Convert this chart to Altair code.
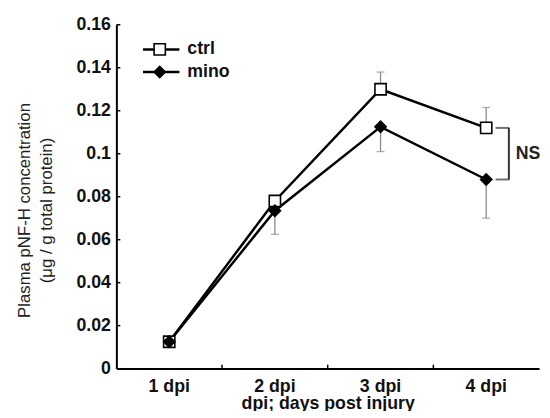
import altair as alt
import pandas as pd

days = ["1 dpi", "2 dpi", "3 dpi", "4 dpi"]
ctrl = [0.0125, 0.078, 0.130, 0.112]
ctrl_err = [0.001, 0.002, 0.008, 0.0095]
mino = [0.0125, 0.0735, 0.1125, 0.088]
mino_err = [0.001, 0.011, 0.0115, 0.018]
y_ticks = [0.02, 0.04, 0.06, 0.08, 0.10, 0.12, 0.14, 0.16]
series = ["ctrl", "mino"]

rows = []
for d, v, e in zip(days, ctrl, ctrl_err):
    rows.append(dict(day=d, series="ctrl", value=v, lo=v, hi=v + e, cap=v + e))
for d, v, e in zip(days, mino, mino_err):
    rows.append(dict(day=d, series="mino", value=v, lo=v - e, hi=v, cap=v - e))
df = pd.DataFrame(rows)

W, H = 429, 349
FONT = "Liberation Sans"

xscale = alt.Scale(domain=days, paddingInner=0, paddingOuter=0)
yscale = alt.Scale(domain=[0, 0.16], nice=False, zero=True)

X = alt.X("day:N", scale=xscale, sort=days,
          axis=alt.Axis(title="dpi; days post injury", labelAngle=0, ticks=False,
                        labelPadding=9, titlePadding=-1, domainWidth=2,
                        domainColor="black"))
Y = alt.Y("value:Q", scale=yscale,
          axis=alt.Axis(title=["Plasma pNF-H concentration", "(\u03bcg / g total protein)"],
                        values=[0] + y_ticks, format="~g", ticks=False, grid=False,
                        labelPadding=6, titlePadding=21, titleFontSize=17,
                        titleFontWeight="normal", titleColor="#222", titleY=188,
                        titleLineHeight=22, domainWidth=2, domainColor="black"))

base = alt.Chart(df)

err = base.mark_rule(color="#8a8a8a", strokeWidth=1.3).encode(
    x=X, y=alt.Y("lo:Q", scale=yscale), y2="hi:Q")
caps = base.mark_tick(color="#8a8a8a", size=8, thickness=1.3).encode(
    x=X, y=alt.Y("cap:Q", scale=yscale))
lines = base.mark_line(color="black", strokeWidth=2.5).encode(
    x=X, y=Y, detail="series:N")
points = base.mark_point(filled=True, stroke="black", strokeWidth=1.6, size=130, opacity=1).encode(
    x=X, y=Y,
    shape=alt.condition("datum.series == 'ctrl'", alt.value("square"), alt.value("diamond")),
    fill=alt.condition("datum.series == 'ctrl'", alt.value("white"), alt.value("black")),
)

# manual legend (decoration positioned in pixels)
leg_ctrl = alt.Chart(pd.DataFrame({"s": [series[0]]}))
leg_mino = alt.Chart(pd.DataFrame({"s": [series[1]]}))
LY1, LY2 = 25, 48
leg = [
    leg_ctrl.mark_rule(color="black", strokeWidth=2.5).encode(
        x=alt.value(27), x2=alt.value(64), y=alt.value(LY1)),
    leg_ctrl.mark_point(filled=True, fill="white", stroke="black", strokeWidth=1.6,
                        size=130, shape="square", opacity=1).encode(
        x=alt.value(44), y=alt.value(LY1)),
    leg_ctrl.mark_text(align="left", baseline="middle", fontSize=18, font=FONT,
                       fontWeight="bold", color="#111").encode(
        x=alt.value(72), y=alt.value(LY1), text="s:N"),
    leg_mino.mark_rule(color="black", strokeWidth=2.5).encode(
        x=alt.value(27), x2=alt.value(64), y=alt.value(LY2)),
    leg_mino.mark_point(filled=True, fill="black", stroke="black", strokeWidth=1.6,
                        size=130, shape="diamond", opacity=1).encode(
        x=alt.value(44), y=alt.value(LY2)),
    leg_mino.mark_text(align="left", baseline="middle", fontSize=18, font=FONT,
                       fontWeight="bold", color="#111").encode(
        x=alt.value(72), y=alt.value(LY2), text="s:N"),
]

ytick_df = pd.DataFrame({"t": y_ticks})
yt = alt.Chart(ytick_df).mark_rule(color="black", strokeWidth=1.5).encode(
    y=alt.Y("t:Q", scale=yscale), x=alt.value(0), x2=alt.value(4))

xtick_df = pd.DataFrame({"day": days[1:]})
xt = alt.Chart(xtick_df).mark_rule(color="black", strokeWidth=1.5).encode(
    x=alt.X("day:N", scale=xscale, sort=days, bandPosition=0),
    y=alt.value(H), y2=alt.value(H - 4))

ns_df = pd.DataFrame({"day": [days[3]], "top": [ctrl[3]], "bot": [mino[3]],
                      "mid": [(ctrl[3] + mino[3]) / 2], "label": ["NS"]})
ns_base = alt.Chart(ns_df)
ns_v = ns_base.mark_rule(color="#333", strokeWidth=2, xOffset=23).encode(
    x=alt.X("day:N", scale=xscale, sort=days), y=alt.Y("top:Q", scale=yscale), y2="bot:Q")
ns_t1 = ns_base.mark_tick(color="#333", size=14, thickness=2, xOffset=16.5).encode(
    x=alt.X("day:N", scale=xscale, sort=days), y=alt.Y("top:Q", scale=yscale))
ns_t2 = ns_base.mark_tick(color="#333", size=14, thickness=2, xOffset=16.5).encode(
    x=alt.X("day:N", scale=xscale, sort=days), y=alt.Y("bot:Q", scale=yscale))
ns_txt = ns_base.mark_text(align="left", baseline="middle", xOffset=30, fontSize=18,
                           font=FONT, fontWeight="bold", color="#222").encode(
    x=alt.X("day:N", scale=xscale, sort=days), y=alt.Y("mid:Q", scale=yscale), text="label:N")

chart = alt.layer(err, caps, lines, points, yt, xt, ns_v, ns_t1, ns_t2, ns_txt, *leg).properties(
    width=W, height=H,
    autosize=alt.AutoSizeParams(type="none"),
    padding={"left": 110, "top": 14, "right": 3, "bottom": 40},
).configure_view(stroke=None).configure_axis(
    labelFont=FONT, titleFont=FONT, labelFontSize=18, titleFontSize=18,
    labelFontWeight="bold", titleFontWeight="bold", labelColor="#111", titleColor="#111",
)

chart.save("out.html", embed_options={"renderer": "svg", "actions": False})
